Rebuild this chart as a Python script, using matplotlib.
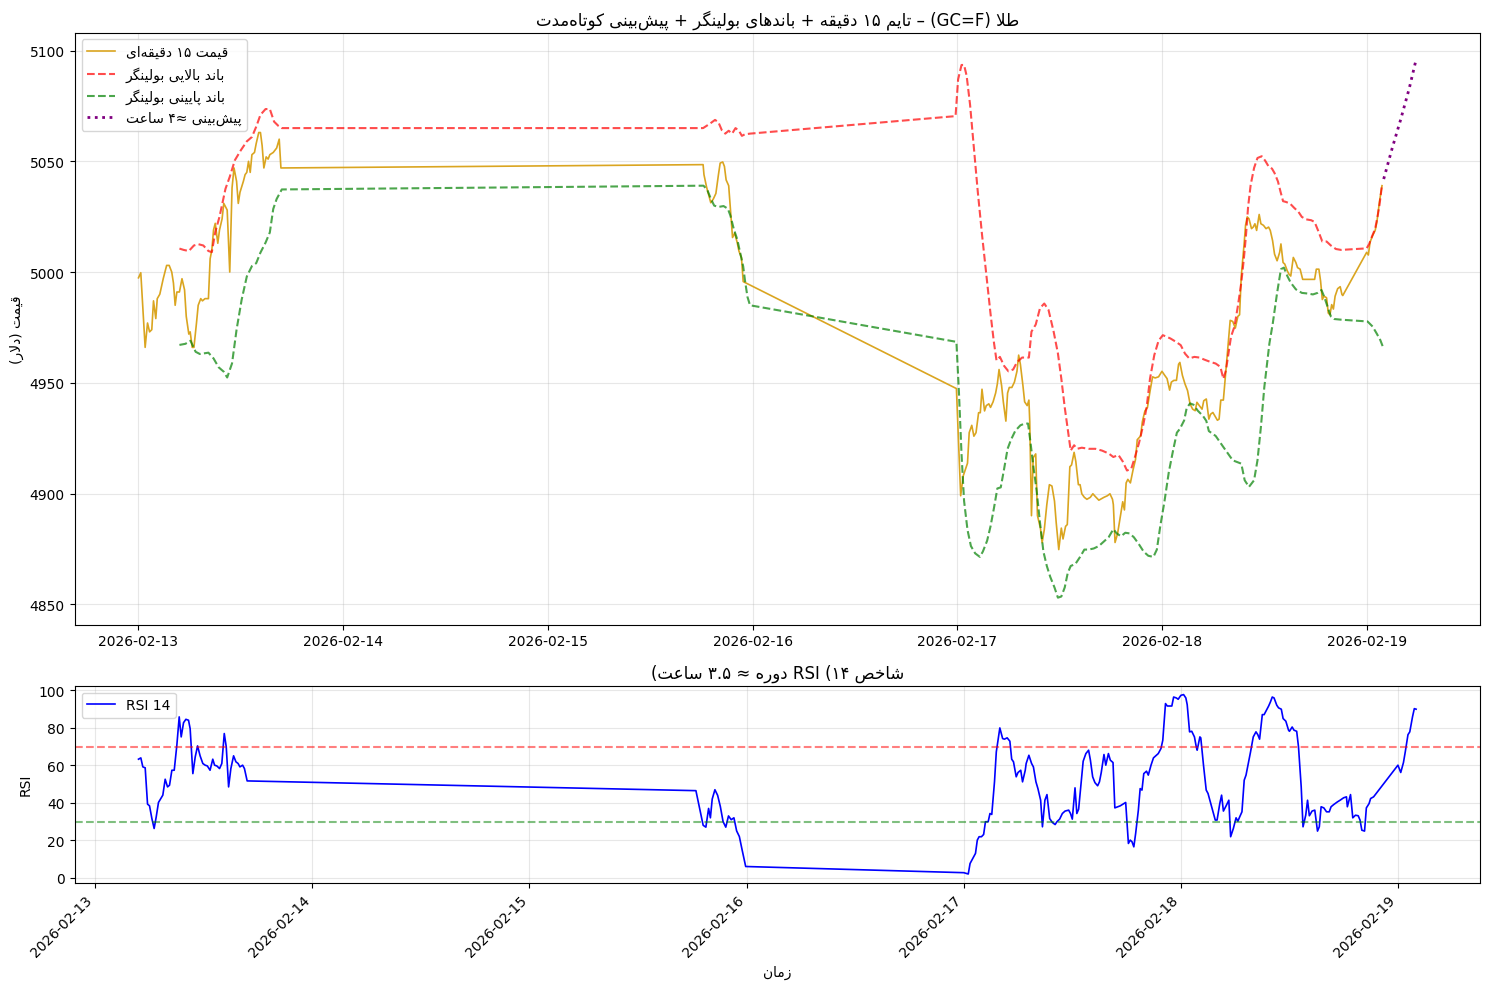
import matplotlib
matplotlib.use('Agg')
import matplotlib.pyplot as plt
import pandas as pd

# start of the time axis, all hours below count from here
base_time = pd.Timestamp('2026-02-13 00:00')

# 15 minute gold price (hours since base, dollars)
price_hours = [0.0, 0.27, 0.78, 1.06, 1.3, 1.56, 1.76, 2.03, 2.2, 2.5, 2.9, 3.3, 3.6, 3.9, 4.1, 4.3,
               4.5, 4.8, 5.1, 5.4, 5.6, 5.9, 6.06, 6.3, 6.5, 6.8, 7.0, 7.3, 7.5, 7.8, 8.2, 8.4, 8.6,
               8.8, 9.0, 9.3, 9.5, 9.8, 10.0, 10.4, 10.7, 10.97, 11.2, 11.5, 11.7, 11.9, 12.3, 12.5,
               12.7, 12.9, 13.1, 13.3, 13.6, 13.8, 14.1, 14.3, 14.5, 14.7, 14.97, 15.2, 15.4, 15.8,
               16.0, 16.2, 16.5, 16.7,
               66.2, 66.3, 66.6, 67.1, 67.4, 67.7, 68.0, 68.2, 68.5, 68.7, 68.9, 69.2, 69.4, 69.65,
               69.9, 70.2, 70.4, 70.7, 70.9, 71.1,
               95.9, 96.4, 96.7, 97.2, 97.4, 97.7, 97.95, 98.2, 98.5, 98.7, 98.9, 99.2, 99.4, 99.7,
               99.9, 100.2, 100.5, 100.7, 100.9, 101.2, 101.4, 101.7, 101.9, 102.1, 102.4, 102.7,
               103.0, 103.2, 103.4, 103.7, 103.9, 104.2, 104.4, 104.5, 104.7, 104.9, 105.2, 105.4,
               105.75, 105.95, 106.2, 106.5, 106.8, 107.1, 107.4, 107.6, 107.9, 108.2, 108.4, 108.7,
               108.9, 109.2, 109.4, 109.7, 109.9, 110.2, 110.4, 110.6, 110.9, 111.2, 111.6, 111.9,
               112.2, 112.6, 113.2, 113.6, 113.9, 114.2, 114.3, 114.5, 114.8, 115.1, 115.4, 115.6,
               115.8, 116.0, 116.3, 116.6, 116.9, 117.1, 117.5, 117.7, 118.0, 118.3, 118.6, 118.9,
               119.2, 119.6, 120.0, 120.3, 120.6, 120.9, 121.1, 121.4, 121.7, 121.95, 122.1,
               122.4, 122.7, 123.0, 123.3, 123.6, 123.9, 124.1, 124.4, 124.7, 124.9, 125.2, 125.5,
               125.7, 125.97, 126.2, 126.5, 126.7, 126.9, 127.2, 127.4, 127.7, 128.0, 128.3, 128.6,
               128.9, 129.1, 129.3, 129.65, 129.8, 130.0, 130.2, 130.5, 130.7, 130.9, 131.1, 131.4,
               131.6, 131.9, 132.2, 132.5, 132.7, 132.97, 133.2, 133.5, 133.8, 133.95, 134.2, 134.4,
               134.7, 134.9, 135.1, 135.4, 135.7, 135.9, 136.2, 136.5, 136.9, 137.3, 137.7, 137.9,
               138.1, 138.4, 138.6, 138.8, 139.0, 139.3, 139.5, 139.7, 139.9, 140.1, 140.3, 140.6,
               140.9, 141.1, 141.2, 144.0, 144.2, 144.4, 144.7, 145.0, 145.2, 145.5, 145.8]
price_values = [4997.4, 4999.7, 4966, 4977, 4973, 4974, 4987, 4979, 4988, 4990, 4997, 5003, 5003,
                5000, 4995, 4985, 4991, 4991, 4997, 4992, 4980, 4972, 4973, 4966, 4966, 4977, 4985,
                4988, 4987, 4988, 4988, 5006, 5010, 5019, 5022, 5013, 5019, 5024, 5031, 5028, 5000,
                5038, 5047, 5041, 5031, 5036, 5041, 5044, 5045, 5050, 5045, 5053, 5054, 5058, 5063,
                5063, 5057, 5047, 5052, 5051, 5053, 5054, 5055, 5056, 5060, 5047,
                5048.5, 5044, 5038.5, 5031.3, 5033, 5035.5, 5044, 5049.2, 5049.7, 5047.7, 5041.6,
                5039, 5028.6, 5015.6, 5017.6, 5013.3, 5009.5, 5006.4, 4995.7, 4995.3,
                4947.4, 4899, 4908, 4913.7, 4927.5, 4930.8, 4925.9, 4927.5, 4936.5, 4936.5, 4947.1,
                4937.3, 4939.7, 4940.5, 4938.9, 4941.4, 4945.4, 4949.5, 4956, 4948.7, 4941.4, 4932.7,
                4945.4, 4947.9, 4947.9, 4950.3, 4955.2, 4962.5, 4958.4, 4948.7, 4941.4, 4939.7,
                4942.2, 4932.4, 4890, 4916.2, 4917.9, 4890.1, 4884.4, 4877.9, 4883.6, 4895, 4904,
                4903.4, 4896.6, 4886.9, 4874.7, 4884.4, 4879.5, 4885.2, 4886, 4912.1, 4912.9, 4918.6,
                4914.5, 4904, 4904, 4899.9, 4898.3, 4897.4, 4898.3, 4899.9, 4898.6, 4897, 4898.3,
                4899, 4899.9, 4897.4, 4895, 4877.9, 4882, 4889.3, 4896.3, 4892.6, 4904.8, 4906.4,
                4904.8, 4910.5, 4915.4, 4924.3, 4926, 4932.4, 4937.3, 4938.9, 4946.2, 4952.7, 4952.2,
                4952.7, 4955.2, 4953.5, 4951.9, 4946.7, 4950.3, 4951.1, 4951.1, 4958.4, 4959.2,
                4953.3, 4949.5, 4946.5, 4940.4, 4938.1, 4937.4, 4941.2, 4939.6, 4938.1, 4941.9,
                4942.7, 4933.6, 4935.8, 4936.6, 4935.1, 4933.1, 4933.6, 4942.2, 4942.2, 4951.1,
                4964.8, 4978.2, 4977.7, 4974.7, 4980, 4980.7, 4998.2, 5013.5, 5021.1, 5024.9, 5024.1,
                5019.6, 5020.3, 5021.8, 5018.8, 5026, 5021.8, 5021.1, 5019.6, 5020.3, 5018.8, 5014.2,
                5008.1, 5005.1, 5008.9, 5012.7, 5004.3, 5003.6, 5000.5, 4999, 4998.2, 5006.6, 5004.3,
                5002, 5001.3, 4996.7, 4996.7, 4996.7, 4996.7, 4996.7, 5001.3, 5001.3, 4995.9, 4987.6,
                4989.1, 4988.4, 4981.5, 4980.7, 4985.3, 4983.3, 4989.1, 4992.5, 4993.4, 4989.9,
                4989.4, 5008.9, 5007.7, 5013.5, 5016.5, 5018.8, 5022.6, 5031.7, 5039]

# upper bollinger band
upper_hours = [4.8, 5.3, 5.9, 6.5, 7.0, 7.6, 8.2, 8.6, 9.0, 9.5, 10.2, 10.7, 11.3, 12.0, 12.7, 13.3,
               13.8, 14.3, 14.9, 15.4, 15.9, 16.4, 16.8,
               66.2, 67.0, 67.6, 68.0, 68.4, 68.8, 69.2, 69.6, 70.0, 70.4, 70.75, 71.1, 71.7,
               95.8, 96.1, 96.5, 96.8, 97.1, 97.5, 97.95, 98.4, 98.9, 99.4, 99.9, 100.3, 100.6, 101.0,
               101.5, 102.0, 102.55, 103.0, 103.6, 104.4, 104.7, 105.2, 105.7, 106.2, 106.7, 107.3,
               107.8, 108.2, 108.6, 108.95, 109.3, 109.7, 110.05, 110.6, 111.4, 112.2, 112.97,
               113.75, 114.3, 114.9, 115.4, 115.9, 116.4, 116.8, 117.3, 117.8, 118.2, 118.6, 119.1,
               119.6, 120.1, 120.6, 121.0, 121.6, 122.2, 122.7, 123.2, 123.8, 124.4, 124.95, 125.7,
               126.3, 126.85, 127.2, 127.5, 127.8, 128.1, 128.5, 128.9, 129.3, 129.6, 129.85, 130.1,
               130.4, 130.8, 131.2, 131.7, 132.1, 132.5, 132.9, 133.2, 133.6, 133.9, 134.2, 134.5,
               135.0, 135.5, 136.0, 136.4, 136.9, 137.5, 137.9, 138.3, 138.8, 139.3, 139.8, 140.4,
               141.0, 144.0, 144.3, 144.6, 145.0, 145.3, 145.5, 145.8]
upper_values = [5010.6, 5010, 5009.5, 5012, 5012.6, 5012, 5009.5, 5009, 5018, 5025, 5037.6, 5043,
                5050.5, 5055, 5059, 5061, 5065.6, 5071, 5073.6, 5073.6, 5067.9, 5066, 5065,
                5065, 5067, 5068.7, 5067.6, 5064, 5062.5, 5063.8, 5062.5, 5065, 5063.8, 5061.5,
                5062.2, 5062.5,
                5070.4, 5087, 5093.5, 5093.5, 5088.6, 5075.6, 5056.1, 5036.5, 5017, 4999.1, 4981.2,
                4968.2, 4960.1, 4961.7, 4957.6, 4955.2, 4956, 4959.3, 4961.4, 4961.4, 4973.1, 4976.3,
                4983.7, 4985.8, 4982.9, 4973.1, 4963.3, 4951.9, 4938.9, 4929.2, 4919.4, 4921.8,
                4920.2, 4920.7, 4920.2, 4920.2, 4919.4, 4918.1, 4916.5, 4917.4, 4914.5, 4910.4,
                4911.2, 4916.1, 4922.7, 4930.8, 4938.9, 4951.9, 4962.5, 4969, 4971.5, 4970.7, 4970,
                4968.6, 4967, 4963.2, 4961, 4961.7, 4961.4, 4960.5, 4959.4, 4958.7, 4957.2, 4951.8,
                4955.6, 4963.2, 4970.9, 4975.4, 4984.6, 4995.2, 5005.9, 5016.5, 5029.5, 5039.3, 5047,
                5051.5, 5052.3, 5050.3, 5047.7, 5046.7, 5044.7, 5040.9, 5036.3, 5032, 5031.7, 5031,
                5029, 5027.2, 5024.9, 5023.8, 5023.4, 5022.6, 5018.8, 5013.8, 5013.8, 5012, 5010.4,
                5010, 5010.7, 5012.7, 5015.8, 5019.6, 5025.6, 5030.2, 5039.3]

# lower bollinger band
lower_hours = [4.8, 5.5, 6.1, 6.7, 7.2, 8.2, 8.8, 9.4, 10.0, 10.4, 10.97, 11.5, 12.1, 12.7, 13.3,
               13.8, 14.3, 14.9, 15.4, 15.8, 16.2, 16.8,
               66.25, 66.7, 67.1, 67.5, 68.0, 68.6, 69.1, 69.4, 69.8, 70.2, 70.55, 70.9, 71.1, 71.4,
               71.7,
               95.9, 96.2, 96.5, 96.8, 97.2, 97.6, 98.1, 98.65, 99.0, 99.5, 99.9, 100.3, 100.7,
               101.1, 101.5, 101.9, 102.3, 102.8, 103.4, 103.9, 104.3, 104.6, 104.9, 105.3, 105.7,
               106.1, 106.5, 106.9, 107.4, 107.8, 108.2, 108.6, 108.95, 109.3, 109.85, 110.4, 110.9,
               111.4, 112.0, 112.6, 113.2, 113.75, 114.3, 114.7, 115.2, 115.7, 116.2, 116.7, 117.3,
               117.85, 118.4, 119.0, 119.4, 119.8, 120.3, 120.8, 121.3, 121.75, 122.1, 122.6, 122.9,
               123.3, 123.7, 124.2, 124.8, 125.2, 125.5, 126.3, 127.2, 128.3, 129.3, 129.7, 130.2,
               130.8, 131.2, 131.6, 132.0, 132.6, 133.0, 133.5, 133.95, 134.3, 134.7, 135.1, 135.7,
               136.4, 137.1, 137.7, 138.25, 138.7, 139.0, 139.4, 139.8, 140.2, 141.0, 144.1, 144.7,
               145.2, 145.6, 145.9]
lower_values = [4967.1, 4967.6, 4969, 4964, 4963, 4963.6, 4961, 4957, 4955, 4952.4, 4958.8, 4974,
                4987.6, 4998, 5002.7, 5004, 5008.8, 5013.3, 5017.9, 5028.5, 5033, 5037.3,
                5039, 5037, 5033.2, 5030, 5029.4, 5029.8, 5028.6, 5025.5, 5019.4, 5014.8, 5008.7,
                5002.6, 4996.5, 4988.8, 4985,
                4968.5, 4945.4, 4917.8, 4896.6, 4883.6, 4876.3, 4873, 4871.4, 4873.8, 4878.7, 4885.2,
                4893.4, 4902.3, 4902.8, 4911.3, 4920.2, 4924.3, 4928.3, 4930.8, 4931.6, 4931.6,
                4922.7, 4912.9, 4901.5, 4886.9, 4873.8, 4867.3, 4862.4, 4857.6, 4853, 4853.5, 4857.6,
                4864.1, 4867.3, 4868.2, 4871.4, 4874.7, 4874.7, 4875.2, 4876.3, 4878.4, 4880.3,
                4883.9, 4882, 4880.7, 4882.3, 4882, 4880.3, 4877.1, 4873.8, 4871.9, 4871.4, 4874.7,
                4885.2, 4896.6, 4909.6, 4919.4, 4927.5, 4929.2, 4933, 4938.6, 4940.7, 4940.1, 4937.4,
                4935.1, 4932.8, 4928.2, 4926, 4921, 4915, 4913.5, 4906, 4903, 4906, 4915, 4930, 4948,
                4967.8, 4977, 4990.6, 5001.3, 5002, 4998.2, 4995.2, 4992.2, 4990.6, 4990.3, 4989.9,
                4990.6, 4991.9, 4989.1, 4984.6, 4980, 4978.8, 4978.5, 4977.7, 4975.4, 4972.1, 4969.3,
                4966.3]

# ~4 hour forecast after the last price
forecast_hours = [146.0, 147.0, 148.0, 149.0, 149.8]
forecast_values = [5042, 5056, 5069, 5083, 5096]

# RSI 14
rsi_hours = [4.79, 5.05, 5.27, 5.53, 5.79, 6.01, 6.27, 6.52, 6.75, 7.0, 7.26, 7.48, 7.74, 8.0, 8.22,
             8.48, 8.74, 9.03, 9.29, 9.51, 9.77, 10.03, 10.32, 10.5, 10.8, 11.06, 11.32, 11.6, 11.9,
             12.16, 12.4, 12.7, 13.0, 13.2, 13.45, 13.75, 14.0, 14.27, 14.49, 14.75, 15.0, 15.3,
             15.56, 15.8, 16.0, 16.3, 16.5, 16.8,
             66.4, 66.9, 67.2, 67.5, 67.8, 68.0, 68.2, 68.5, 68.8, 69.1, 69.4, 69.7, 70.0, 70.3,
             70.6, 70.9, 71.2, 71.5, 71.9,
             96.0, 96.5, 96.7, 97.0, 97.3, 97.5, 97.7, 97.96, 98.2, 98.4, 98.7, 98.9, 99.1, 99.4,
             99.6, 99.99, 100.3, 100.5, 100.8, 101.1, 101.3, 101.5, 101.8, 102.0, 102.3, 102.5,
             102.8, 102.9, 103.2, 103.5, 103.7, 103.98, 104.2, 104.5, 104.7, 104.97, 105.2, 105.5,
             105.8, 106.1, 106.3, 106.6, 106.9, 107.2, 107.6, 107.8, 108.0, 108.3, 108.5, 108.7,
             109.2, 109.5, 109.8, 110.0, 110.25, 110.5, 110.8, 111.0, 111.2, 111.5, 111.7, 111.99,
             112.2, 112.5, 112.7, 113.3, 113.9, 114.2, 114.4, 114.6, 114.8, 115.0, 115.3, 115.5,
             115.7, 115.9, 116.2, 116.4, 116.7, 116.97, 117.3, 117.5, 117.8, 118.0, 118.3, 118.5,
             118.8, 119.0, 119.2, 119.5, 119.7, 120.0, 120.3, 120.55, 120.7, 120.96, 121.2, 121.5,
             121.7, 121.8, 122.1, 122.2, 122.5, 122.8, 123.0, 123.2, 123.5, 123.8, 124.0, 124.3,
             124.5, 124.7, 125.0, 125.3, 125.5, 125.8, 126.1, 126.3, 126.5, 126.75, 127.0, 127.2,
             127.5, 127.7, 128.0, 128.3, 128.5, 128.7, 129.0, 129.2, 129.45, 129.7, 129.9, 130.1,
             130.3, 130.6, 130.8, 131.1, 131.3, 131.6, 131.9, 132.0, 132.3, 132.5, 132.8, 133.0,
             133.3, 133.5, 133.8, 134.0, 134.2, 134.5, 134.8, 135.1, 135.3, 135.5, 135.8, 136.1,
             136.4, 136.6, 136.9, 137.3, 137.6, 137.99, 138.3, 138.4, 138.75, 139.0, 139.3, 139.6,
             139.8, 140.0, 140.3, 140.5, 140.8, 140.97, 141.3, 143.99, 144.3, 144.6, 144.8, 145.1,
             145.3, 145.6, 145.8, 146.0]
rsi_values = [63.3, 64, 59.2, 58.7, 39.3, 38.4, 31.6, 26.3, 32.5, 40.2, 42.3, 44.1, 52.6, 48.5, 49.4,
              57.4, 57.4, 70.8, 85.9, 75.2, 82.8, 84.6, 84.1, 79.6, 55.6, 64.5, 70.4, 65.1, 61,
              60.1, 59.7, 57.4, 63.3, 60.1, 59.7, 58.3, 61, 77, 69.9, 48.5, 58.3, 65.1, 61.9, 61,
              59.2, 60.1, 58.3, 51.7,
              46.5, 35, 28, 27, 37, 32, 42, 47, 44, 38, 30, 27, 33, 31, 32, 25, 22, 15, 6,
              2.7, 2.0, 7.6, 10.3, 13, 20.1, 21.9, 21.9, 23.1, 29.9, 29.9, 34.3, 33.8, 51.2, 67.2,
              80, 74.3, 74, 74.7, 72.9, 63.3, 61.9, 53.9, 56.2, 57.4, 51.2, 57.4, 61, 65.4, 61,
              59.2, 51.2, 47.6, 41.4, 27.2, 41.4, 44.4, 31.6, 29.5, 28.4, 29.9, 31.3, 34.3, 35.6,
              36.1, 34.3, 31.3, 48, 34.3, 36.6, 62.2, 66.3, 68.1, 62.8, 53.9, 50.8, 49.1, 51.2,
              56.2, 65.8, 60.1, 66.3, 62.8, 61.5, 37.3, 38.4, 40.2, 18.3, 20.1, 19.2, 16.5, 23.6,
              36.1, 47.6, 46.8, 55.6, 56.9, 54.8, 60.1, 64, 65.4, 66.3, 69, 73.4, 93, 91.7, 91.7,
              91.7, 96.5, 96, 95.3, 97.4, 97.8, 96, 92.4, 77.9, 78.2, 75.2, 69.9, 68.1, 75.2, 74.7,
              60.1, 46.8, 45, 41.4, 36.1, 30.8, 30.8, 39.6, 44.1, 35.6, 38.4, 41.4, 21.9, 26.3, 32,
              30.2, 32.5, 35.2, 52.1, 54.8, 62.2, 67.2, 75.2, 77.9, 76.4, 74, 87.1, 87.1, 89.4,
              91.7, 93.9, 96.5, 96, 92.1, 90.7, 90, 85, 83.6, 78.8, 78.2, 80.5, 78.8, 78.2, 69.9,
              48.5, 27.2, 33.4, 41.4, 33.1, 35.6, 36.1, 24.9, 27.2, 37.9, 37.3, 35.2, 35.2, 37.9,
              39.1, 40.5, 41.4, 42.7, 43.2, 37.9, 44.4, 32, 33.4, 33.1, 30.8, 25.4, 24.9, 37.3,
              39.6, 42.3, 43.2, 60.1, 56.2, 61.5, 67.2, 76.4, 77.9, 85.9, 90.3, 90]

# contextual glyph forms: isolated, final, initial, medial (None = letter never joins forward)
FORMS = {
    'ا': (0xFE8D, 0xFE8E, None, None), 'آ': (0xFE81, 0xFE82, None, None),
    'ب': (0xFE8F, 0xFE90, 0xFE91, 0xFE92), 'پ': (0xFB56, 0xFB57, 0xFB58, 0xFB59),
    'ت': (0xFE95, 0xFE96, 0xFE97, 0xFE98), 'خ': (0xFEA5, 0xFEA6, 0xFEA7, 0xFEA8),
    'د': (0xFEA9, 0xFEAA, None, None), 'ر': (0xFEAD, 0xFEAE, None, None),
    'ز': (0xFEAF, 0xFEB0, None, None), 'س': (0xFEB1, 0xFEB2, 0xFEB3, 0xFEB4),
    'ش': (0xFEB5, 0xFEB6, 0xFEB7, 0xFEB8), 'ص': (0xFEB9, 0xFEBA, 0xFEBB, 0xFEBC),
    'ط': (0xFEC1, 0xFEC2, 0xFEC3, 0xFEC4), 'ع': (0xFEC9, 0xFECA, 0xFECB, 0xFECC),
    'ق': (0xFED5, 0xFED6, 0xFED7, 0xFED8), 'ک': (0xFB8E, 0xFB8F, 0xFB90, 0xFB91),
    'گ': (0xFB92, 0xFB93, 0xFB94, 0xFB95), 'ل': (0xFEDD, 0xFEDE, 0xFEDF, 0xFEE0),
    'م': (0xFEE1, 0xFEE2, 0xFEE3, 0xFEE4), 'ن': (0xFEE5, 0xFEE6, 0xFEE7, 0xFEE8),
    'ه': (0xFEE9, 0xFEEA, 0xFEEB, 0xFEEC), 'و': (0xFEED, 0xFEEE, None, None),
    'ی': (0xFBFC, 0xFBFD, 0xFBFE, 0xFBFF),
}
MIRROR = {'(': ')', ')': '('}


def shape(text):
    # join the persian letters (matplotlib only draws isolated glyphs)
    out = []
    i = 0
    while i < len(text):
        c = text[i]
        if c not in FORMS:
            out.append(c)
            i += 1
            continue
        prev = text[i - 1] if i > 0 else ''
        joins_prev = prev in FORMS and FORMS[prev][2] is not None
        if c == 'ل' and text[i + 1:i + 2] == 'ا':
            out.append(chr(0xFEFC if joins_prev else 0xFEFB))
            i += 2
            continue
        nxt = text[i + 1] if i + 1 < len(text) else ''
        joins_next = FORMS[c][2] is not None and nxt in FORMS
        iso, fin, ini, med = FORMS[c]
        if joins_prev and joins_next:
            out.append(chr(med))
        elif joins_prev:
            out.append(chr(fin))
        elif joins_next:
            out.append(chr(ini))
        else:
            out.append(chr(iso))
        i += 1
    return ''.join(out).replace('\u200c', '')


def char_type(c):
    o = ord(c)
    if c.isascii() and c.isalpha():
        return 'L'
    if c.isdigit():
        return 'EN'
    if c in '.,:':
        return 'CS'
    if c == ' ':
        return 'WS'
    if 0x600 <= o <= 0x6FF or 0xFB50 <= o <= 0xFDFF or 0xFE70 <= o <= 0xFEFF:
        return 'AL'
    return 'ON'


def visual(text):
    # small right-to-left bidi pass, so the text reads properly when drawn left to right
    t = [char_type(c) for c in text]
    n = len(t)
    last = 'R'
    for i in range(n):
        if t[i] in ('L', 'AL'):
            last = t[i]
        elif t[i] == 'EN' and last == 'AL':
            t[i] = 'AN'
    for i in range(1, n - 1):
        if t[i] == 'CS' and t[i - 1] == t[i + 1] and t[i - 1] in ('EN', 'AN'):
            t[i] = t[i - 1]
    last = 'R'
    for i in range(n):
        if t[i] in ('L', 'AL'):
            last = t[i]
        elif t[i] == 'EN' and last == 'L':
            t[i] = 'L'
    strong = ['L' if x == 'L' else ('R' if x in ('AL', 'EN', 'AN') else None) for x in t]
    i = 0
    while i < n:
        if strong[i] is None:
            j = i
            while j < n and strong[j] is None:
                j += 1
            before = strong[i - 1] if i > 0 else 'R'
            after = strong[j] if j < n else 'R'
            for k in range(i, j):
                strong[k] = before if before == after else 'R'
            i = j
        else:
            i += 1
    levels = [2 if (strong[k] == 'L' or t[k] in ('EN', 'AN')) else 1 for k in range(n)]
    chars = [MIRROR.get(c, c) if levels[k] == 1 else c for k, c in enumerate(text)]
    i = 0
    while i < n:
        if levels[i] == 2:
            j = i
            while j < n and levels[j] == 2:
                j += 1
            chars[i:j] = chars[i:j][::-1]
            i = j
        else:
            i += 1
    return ''.join(chars[::-1])


def fa(text):
    return visual(shape(text))


def to_times(hours):
    return base_time + pd.to_timedelta(hours, unit='h')


fig, (ax1, ax2) = plt.subplots(2, 1, figsize=(15, 10), gridspec_kw={'height_ratios': [3, 1]})

# Price panel
ax1.plot(to_times(price_hours), price_values, color='goldenrod', linewidth=1.2,
         label=fa('قیمت ۱۵ دقیقه‌ای'))
ax1.plot(to_times(upper_hours), upper_values, color='red', linestyle='--', alpha=0.7, linewidth=1.5,
         label=fa('باند بالایی بولینگر'))
ax1.plot(to_times(lower_hours), lower_values, color='green', linestyle='--', alpha=0.7, linewidth=1.5,
         label=fa('باند پایینی بولینگر'))
ax1.plot(to_times(forecast_hours), forecast_values, color='purple', linestyle=':', linewidth=2,
         label=fa('پیش‌بینی ≈۴ ساعت'))
ax1.set_title(fa('طلا (GC=F) – تایم ۱۵ دقیقه + باندهای بولینگر + پیش‌بینی کوتاه‌مدت'))
ax1.set_ylabel(fa('قیمت (دلار)'))
ax1.legend(loc='upper left')
ax1.grid(True, alpha=0.3)

# RSI panel
ax2.plot(to_times(rsi_hours), rsi_values, color='blue', linewidth=1.2, label='RSI 14')
ax2.axhline(70, color='red', linestyle='--', alpha=0.5)
ax2.axhline(30, color='green', linestyle='--', alpha=0.5)
ax2.set_title(fa('شاخص RSI (۱۴ دوره ≈ ۳.۵ ساعت)'))
ax2.set_ylabel('RSI')
ax2.set_xlabel(fa('زمان'))
ax2.legend(loc='upper left')
ax2.grid(True, alpha=0.3)
plt.setp(ax2.get_xticklabels(), rotation=45, ha='right')

plt.tight_layout()
plt.savefig('out.png', dpi=100, bbox_inches='tight')
